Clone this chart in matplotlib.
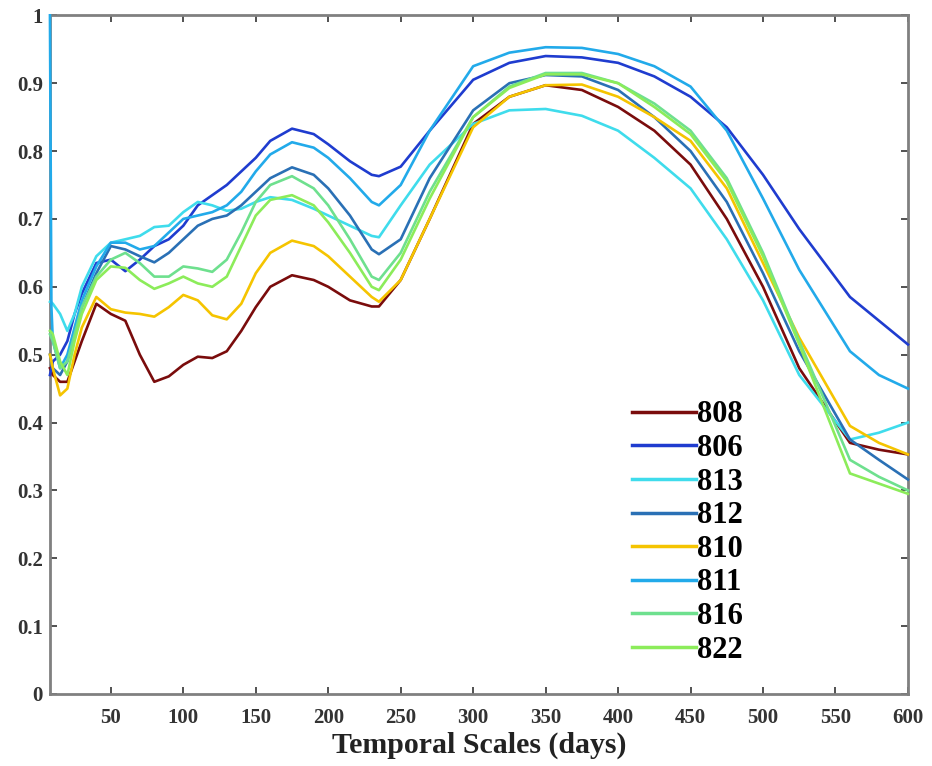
import matplotlib
matplotlib.use('Agg')
import matplotlib.pyplot as plt

# temporal scales (days)
scales = [8, 9, 10, 15, 20, 25, 30, 40, 50, 60, 70, 80, 90, 100, 110, 120, 130, 140, 150, 160,
          175, 190, 200, 215, 230, 235, 250, 270, 300, 325, 350, 375, 400, 425, 450, 475,
          500, 525, 560, 580, 600]

s808 = [0.48, 0.475, 0.47, 0.46, 0.46, 0.49, 0.52, 0.575, 0.56, 0.55, 0.50, 0.46, 0.468, 0.485,
        0.497, 0.495, 0.505, 0.535, 0.57, 0.60, 0.617, 0.61, 0.60, 0.58, 0.571, 0.571, 0.61,
        0.70, 0.84, 0.88, 0.897, 0.89, 0.865, 0.83, 0.78, 0.70, 0.60, 0.48, 0.37, 0.36, 0.353]
s806 = [0.47, 0.48, 0.49, 0.50, 0.52, 0.56, 0.59, 0.635, 0.64, 0.623, 0.64, 0.66, 0.67, 0.69,
        0.72, 0.735, 0.75, 0.77, 0.79, 0.815, 0.833, 0.825, 0.81, 0.785, 0.765, 0.763, 0.777,
        0.83, 0.905, 0.93, 0.94, 0.938, 0.93, 0.91, 0.88, 0.835, 0.765, 0.685, 0.585, 0.55, 0.515]
s813 = [0.578, 0.577, 0.575, 0.56, 0.535, 0.56, 0.60, 0.645, 0.665, 0.67, 0.675, 0.688, 0.69,
        0.71, 0.725, 0.72, 0.712, 0.715, 0.725, 0.732, 0.728, 0.715, 0.705, 0.69, 0.675, 0.673,
        0.72, 0.78, 0.84, 0.86, 0.862, 0.852, 0.83, 0.79, 0.745, 0.67, 0.58, 0.47, 0.375, 0.385, 0.40]
s812 = [0.50, 0.49, 0.48, 0.47, 0.49, 0.53, 0.57, 0.62, 0.66, 0.655, 0.645, 0.636, 0.65, 0.67,
        0.69, 0.70, 0.705, 0.72, 0.74, 0.76, 0.776, 0.765, 0.745, 0.705, 0.655, 0.648, 0.67,
        0.76, 0.86, 0.90, 0.912, 0.91, 0.89, 0.85, 0.80, 0.725, 0.62, 0.505, 0.375, 0.345, 0.316]
s810 = [0.50, 0.49, 0.48, 0.44, 0.45, 0.50, 0.54, 0.585, 0.567, 0.562, 0.56, 0.556, 0.57, 0.588,
        0.58, 0.558, 0.552, 0.575, 0.62, 0.65, 0.668, 0.66, 0.645, 0.615, 0.585, 0.578, 0.61,
        0.70, 0.835, 0.88, 0.897, 0.898, 0.88, 0.85, 0.815, 0.745, 0.635, 0.525, 0.395, 0.37, 0.353]
s811 = [1.0, 0.57, 0.52, 0.48, 0.50, 0.54, 0.58, 0.63, 0.665, 0.665, 0.655, 0.66, 0.68, 0.70,
        0.705, 0.71, 0.72, 0.74, 0.77, 0.795, 0.813, 0.805, 0.79, 0.76, 0.725, 0.72, 0.75,
        0.83, 0.925, 0.945, 0.953, 0.952, 0.943, 0.925, 0.895, 0.83, 0.73, 0.625, 0.505, 0.47, 0.45]
s816 = [0.53, 0.525, 0.52, 0.48, 0.49, 0.53, 0.57, 0.615, 0.64, 0.65, 0.635, 0.615, 0.615, 0.63,
        0.627, 0.622, 0.64, 0.68, 0.725, 0.75, 0.763, 0.745, 0.72, 0.67, 0.615, 0.61, 0.65,
        0.74, 0.85, 0.895, 0.915, 0.915, 0.90, 0.87, 0.83, 0.76, 0.65, 0.52, 0.345, 0.32, 0.30]
s822 = [0.535, 0.533, 0.53, 0.49, 0.47, 0.52, 0.56, 0.61, 0.63, 0.628, 0.61, 0.597, 0.605, 0.615,
        0.605, 0.60, 0.615, 0.66, 0.705, 0.728, 0.735, 0.72, 0.695, 0.65, 0.60, 0.595, 0.64,
        0.73, 0.85, 0.893, 0.913, 0.913, 0.90, 0.865, 0.825, 0.755, 0.645, 0.515, 0.325, 0.31, 0.295]

labels = ['808', '806', '813', '812', '810', '811', '816', '822']
series = [s808, s806, s813, s812, s810, s811, s816, s822]
colors = ['#7a0c0c', '#1f3ccf', '#3fdcec', '#2a70b5', '#f5c400', '#22aaea', '#6ee08e', '#8cec5a']

plt.rcParams['font.family'] = 'Liberation Serif'
plt.rcParams['font.weight'] = 'bold'

fig = plt.figure(figsize=(9.32, 7.66), dpi=100)
ax = fig.add_axes([0.0536, 0.094, 0.9206, 0.886])

for lab, ys, c in zip(labels, series, colors):
    ax.plot(scales, ys, color=c, lw=1.9, label=lab, zorder=3, clip_on=False)

ax.set_xlim(8, 600)
ax.set_ylim(0, 1)
ax.set_xticks(range(50, 601, 50))
ax.set_yticks([0, 0.1, 0.2, 0.3, 0.4, 0.5, 0.6, 0.7, 0.8, 0.9, 1])
ax.set_yticklabels(['0', '0.1', '0.2', '0.3', '0.4', '0.5', '0.6', '0.7', '0.8', '0.9', '1'])
ax.tick_params(direction='in', length=5, width=1.2, top=True, right=True,
               labelsize=15, colors='#333333', labelcolor='#333333')
ax.tick_params(axis='x', pad=10)
ax.tick_params(axis='y', pad=5)
for sp in ax.spines.values():
    sp.set_color('#808080')
    sp.set_linewidth(2)
for t in ax.get_xticklabels() + ax.get_yticklabels():
    t.set_fontweight('bold')

ax.set_xlabel('Temporal Scales (days)', fontsize=21.5, fontweight='bold', color='#222222', labelpad=3)

leg = ax.legend(loc='upper left', bbox_to_anchor=(0.653, 0.464), frameon=False,
                prop={'family': 'Liberation Serif', 'weight': 'bold', 'size': 22},
                handlelength=2.1, handletextpad=0.05, labelspacing=0.15, borderpad=0.2)
for line in leg.get_lines():
    line.set_linewidth(2.5)

fig.savefig('out.png', dpi=100)
